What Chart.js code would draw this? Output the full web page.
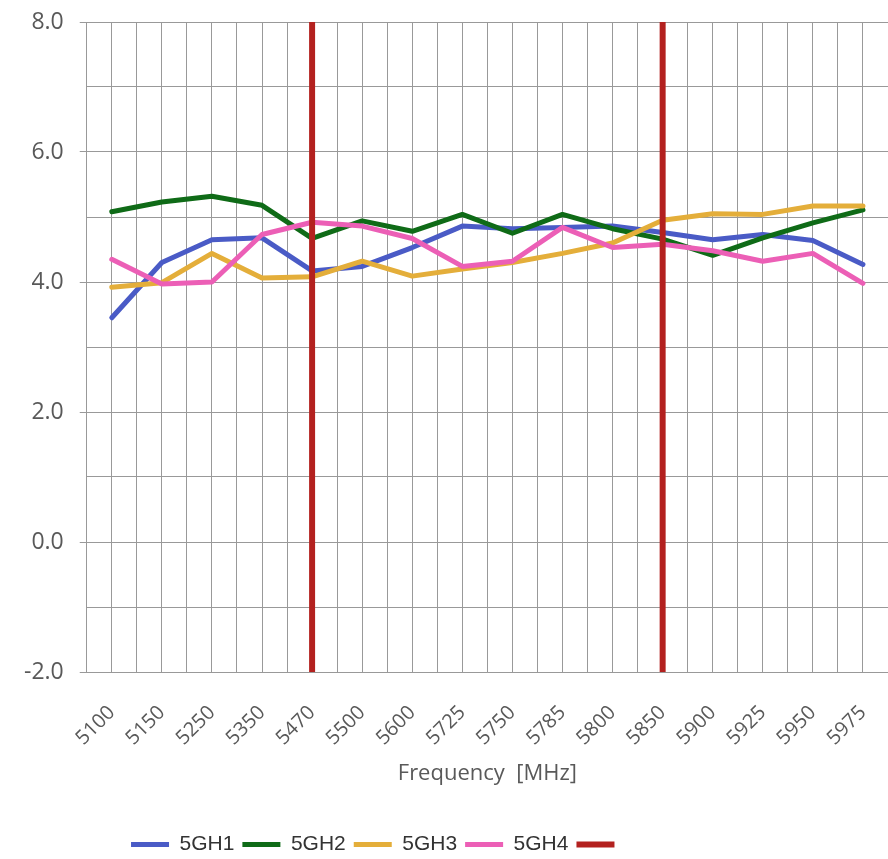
<!DOCTYPE html>
<html>
<head>
<meta charset="utf-8">
<script src="https://cdn.jsdelivr.net/npm/chart.js@4.4.1/dist/chart.umd.min.js"></script>
<style>
  html, body { margin: 0; padding: 0; background: #fff; }
  canvas { display: block; }
</style>
</head>
<body>
<canvas id="chart" width="888" height="859"></canvas>
<script>
const categories = ['5100', '5150', '5250', '5350', '5470', '5500', '5600', '5725', '5750', '5785', '5800', '5850', '5900', '5925', '5950', '5975'];
const gh1 = [3.45, 4.30, 4.65, 4.68, 4.17, 4.24, 4.53, 4.86, 4.82, 4.84, 4.86, 4.76, 4.65, 4.73, 4.64, 4.27];
const gh2 = [5.08, 5.23, 5.32, 5.18, 4.67, 4.94, 4.78, 5.04, 4.75, 5.04, 4.82, 4.66, 4.41, 4.68, 4.91, 5.11];
const gh3 = [3.92, 3.99, 4.44, 4.06, 4.08, 4.32, 4.09, 4.20, 4.30, 4.44, 4.60, 4.95, 5.05, 5.04, 5.17, 5.17];
const gh4 = [4.35, 3.97, 4.00, 4.73, 4.92, 4.86, 4.67, 4.24, 4.32, 4.84, 4.53, 4.58, 4.48, 4.32, 4.44, 3.98];
// 赤い縦線（帯域の区切り）
const markerFreqs = ['5470', '5850'];
const markerRange = [-2, 8];

const yTicks = [-2, 0, 2, 4, 6, 8];

const toPoints = values => values.map((v, i) => ({ x: i, y: v }));

const markerPoints = [];
markerFreqs.forEach(f => {
    const i = categories.indexOf(f);
    markerPoints.push({ x: i, y: markerRange[0] }, { x: i, y: markerRange[1] }, { x: i, y: null });
});

const series = [
    { label: '5GH1', data: gh1, color: '#4A5BC6', order: 4 },
    { label: '5GH2', data: gh2, color: '#0F6B17', order: 3 },
    { label: '5GH3', data: gh3, color: '#E4AE3A', order: 2 },
    { label: '5GH4', data: gh4, color: '#EC5FB6', order: 1 }
];

const datasets = series.map(s => ({
    label: s.label,
    data: toPoints(s.data),
    borderColor: s.color,
    backgroundColor: s.color,
    borderWidth: 5,
    borderCapStyle: 'round',
    borderJoinStyle: 'round',
    pointRadius: 0,
    tension: 0,
    order: s.order
}));

datasets.push({
    label: '',
    data: markerPoints,
    borderColor: '#B3211F',
    backgroundColor: '#B3211F',
    borderWidth: 6,
    borderCapStyle: 'round',
    pointRadius: 0,
    spanGaps: false,
    order: 0
});

const gridColor = '#999999';
const font = "'Open Sans', sans-serif";

// 凡例の位置を元画像に合わせる
const legendShift = {
    id: 'legendShift',
    afterLayout(chart) {
        chart.legend.left -= 70;
        chart.legend.right -= 70;
        chart.legend.top += 6;
        chart.legend.bottom += 6;
    }
};

new Chart(document.getElementById('chart'), {
    type: 'line',
    data: { datasets },
    plugins: [legendShift],
    options: {
        responsive: false,
        animation: false,
        layout: { padding: { top: 22, right: 0, left: 8, bottom: 0 } },
        plugins: {
            tooltip: { enabled: false },
            legend: {
                position: 'bottom',
                labels: {
                    usePointStyle: true,
                    pointStyle: 'line',
                    pointStyleWidth: 38,
                    boxHeight: 5,
                    padding: 8,
                    color: '#333333',
                    font: { family: "'Liberation Sans', sans-serif", size: 21 },
                    sort: (a, b) => a.datasetIndex - b.datasetIndex
                }
            }
        },
        scales: {
            x: {
                type: 'linear',
                min: -0.5,
                max: categories.length - 0.5,
                afterFit: scale => {
                    scale.paddingRight = 0;
                    scale.height = 148;
                },
                grid: { color: gridColor, drawTicks: false },
                border: { color: gridColor },
                title: {
                    display: true,
                    text: 'Frequency  [MHz]',
                    color: '#595959',
                    font: { family: font, size: 22 },
                    padding: { top: 0, bottom: 33 }
                },
                ticks: {
                    stepSize: 0.5,
                    autoSkip: false,
                    minRotation: 45,
                    maxRotation: 45,
                    padding: 29,
                    color: '#595959',
                    font: { family: font, size: 20 },
                    callback: v => Number.isInteger(v) ? categories[v] : ''
                }
            },
            y: {
                min: markerRange[0],
                max: markerRange[1],
                afterFit: scale => { scale.paddingTop = 0; },
                grid: {
                    color: gridColor,
                    tickLength: 7,
                    tickColor: ctx => yTicks.includes(ctx.tick.value) ? gridColor : 'rgba(0,0,0,0)'
                },
                border: { color: gridColor },
                ticks: {
                    stepSize: 1,
                    padding: 16,
                    color: '#595959',
                    font: { family: font, size: 23 },
                    callback: v => yTicks.includes(v) ? v.toFixed(1) : ''
                }
            }
        }
    }
});
</script>
</body>
</html>
